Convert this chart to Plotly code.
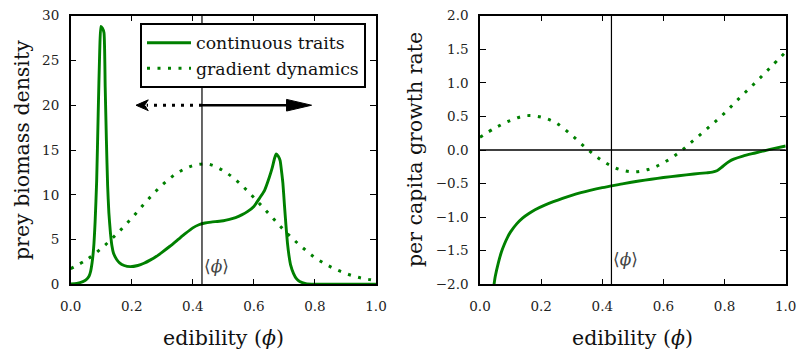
import plotly.graph_objects as go

# ---- data -------------------------------------------------------------
# prey biomass density vs. edibility, continuous-trait model
cont_phi = [0.00, 0.02, 0.04, 0.05, 0.06, 0.065, 0.07, 0.075, 0.08, 0.085, 0.09,
            0.095, 0.099, 0.104, 0.109, 0.113, 0.117, 0.121, 0.125, 0.13, 0.135,
            0.14, 0.15, 0.16, 0.175, 0.195, 0.22, 0.24, 0.26, 0.28, 0.30, 0.325,
            0.35, 0.375, 0.40, 0.42, 0.44, 0.46, 0.48, 0.50, 0.52, 0.54, 0.56,
            0.58, 0.60, 0.62, 0.635, 0.65, 0.66, 0.668, 0.673, 0.68, 0.686, 0.69,
            0.695, 0.70, 0.705, 0.71, 0.715, 0.72, 0.73, 0.74, 0.75, 0.77, 0.80,
            0.90, 1.00]
cont_biomass = [0.05, 0.1, 0.3, 0.5, 0.9, 1.4, 2.4, 4.0, 7.0, 11.5, 19.0,
                26.0, 28.8, 28.6, 28.1, 22.0, 16.0, 11.0, 8.0, 5.8, 4.3,
                3.5, 2.8, 2.4, 2.1, 1.97, 2.1, 2.35, 2.7, 3.1, 3.6, 4.25,
                4.95, 5.65, 6.3, 6.65, 6.85, 6.95, 7.02, 7.1, 7.25, 7.45, 7.75,
                8.15, 8.7, 9.7, 10.5, 11.9, 13.0, 14.1, 14.55, 14.3, 13.8, 12.8,
                11.3, 8.9, 6.6, 4.6, 3.2, 2.2, 1.2, 0.6, 0.3, 0.08, 0.02,
                0.0, 0.0]

# prey biomass density vs. edibility, gradient-dynamics model
grad_phi = [0.00, 0.05, 0.10, 0.15, 0.20, 0.25, 0.30, 0.35, 0.40, 0.45, 0.50,
            0.55, 0.60, 0.65, 0.70, 0.75, 0.80, 0.85, 0.90, 0.95, 1.00]
grad_biomass = [1.75, 2.7, 4.0, 5.6, 7.4, 9.35, 11.1, 12.45, 13.25, 13.42, 12.68,
                11.38, 9.68, 7.85, 6.0, 4.38, 2.99, 1.97, 1.22, 0.71, 0.42]

# per capita growth rate vs. edibility, continuous-trait model
cont_rate_phi = [0.046, 0.05, 0.06, 0.07, 0.08, 0.09, 0.10, 0.12, 0.14, 0.16, 0.18,
                 0.21, 0.24, 0.27, 0.30, 0.33, 0.36, 0.40, 0.43, 0.47, 0.52,
                 0.56, 0.60, 0.65, 0.70, 0.74, 0.76, 0.775, 0.79, 0.80, 0.815,
                 0.83, 0.86, 0.90, 0.93, 0.96, 1.00]
cont_rate = [-2.0, -1.88, -1.68, -1.52, -1.40, -1.30, -1.22, -1.10, -1.01, -0.945, -0.89,
             -0.825, -0.77, -0.72, -0.675, -0.635, -0.60, -0.56, -0.535, -0.50, -0.462,
             -0.435, -0.41, -0.383, -0.357, -0.34, -0.33, -0.31, -0.26, -0.22, -0.17,
             -0.135, -0.09, -0.045, -0.012, 0.02, 0.06]

# per capita growth rate vs. edibility, gradient-dynamics model
grad_rate_phi = [0.00, 0.05, 0.10, 0.15, 0.20, 0.25, 0.30, 0.35, 0.40, 0.45, 0.50,
                 0.55, 0.60, 0.65, 0.70, 0.75, 0.80, 0.85, 0.90, 0.95, 1.00]
grad_rate = [0.19, 0.33, 0.44, 0.51, 0.49, 0.40, 0.22, 0.017, -0.16, -0.28, -0.325,
             -0.29, -0.19, -0.04, 0.15, 0.345, 0.55, 0.78, 1.0, 1.23, 1.46]

mean_phi = 0.43          # community-mean edibility <phi>

x_ticks = [0.0, 0.2, 0.4, 0.6, 0.8, 1.0]
biomass_ticks = [0, 5, 10, 15, 20, 25, 30]
rate_ticks = [-2.0, -1.5, -1.0, -0.5, 0.0, 0.5, 1.0, 1.5, 2.0]

# ---- styling ----------------------------------------------------------
GREEN = "#008000"
SERIF = "DejaVu Serif"
DOT = "3px,7.5px"
W, H = 797, 349

fig = go.Figure()

fig.add_trace(go.Scatter(x=cont_phi, y=cont_biomass, mode="lines",
                         name="continuous traits",
                         line=dict(color=GREEN, width=2.9, shape="spline", smoothing=0.5),
                         xaxis="x", yaxis="y"))
fig.add_trace(go.Scatter(x=grad_phi, y=grad_biomass, mode="lines",
                         name="gradient dynamics",
                         line=dict(color=GREEN, width=3, dash=DOT, shape="spline"),
                         xaxis="x", yaxis="y"))
fig.add_trace(go.Scatter(x=cont_rate_phi, y=cont_rate, mode="lines",
                         showlegend=False,
                         line=dict(color=GREEN, width=2.9, shape="spline", smoothing=0.7),
                         xaxis="x2", yaxis="y2"))
fig.add_trace(go.Scatter(x=grad_rate_phi, y=grad_rate, mode="lines",
                         showlegend=False,
                         line=dict(color=GREEN, width=3, dash=DOT, shape="spline"),
                         xaxis="x2", yaxis="y2"))

axis_common = dict(showline=True, linecolor="black", linewidth=1.5, mirror="ticks",
                   ticks="inside", ticklen=6, tickwidth=1.2, tickcolor="black",
                   showgrid=False, zeroline=False, automargin=False,
                   tickfont=dict(family=SERIF, size=13.5, color="#222"))

top, bottom = 1 - 15.7 / H, 1 - 284.3 / H
left_dom = [70.7 / W, 376.0 / W]
right_dom = [480.0 / W, 785.7 / W]

fig.update_layout(
    width=W, height=H,
    margin=dict(l=0, r=0, t=0, b=0),
    paper_bgcolor="white", plot_bgcolor="white",
    xaxis=dict(axis_common, domain=left_dom, range=[0, 1], tickvals=x_ticks,
               tickformat=".1f", anchor="y", ticklabelstandoff=9),
    yaxis=dict(axis_common, domain=[bottom, top], range=[0, 30],
               tickvals=biomass_ticks, anchor="x", ticklabelstandoff=7),
    xaxis2=dict(axis_common, domain=right_dom, range=[0, 1], tickvals=x_ticks,
                tickformat=".1f", anchor="y2", ticklabelstandoff=9),
    yaxis2=dict(axis_common, domain=[bottom, top], range=[-2, 2],
                tickvals=rate_ticks, tickformat=".1f", anchor="x2", ticklabelstandoff=7),
    legend=dict(x=140 / W, y=1 - 23 / H, xanchor="left", yanchor="top",
                bordercolor="black", borderwidth=2, bgcolor="white",
                font=dict(family=SERIF, size=17.3, color="#111"),
                itemwidth=44, tracegroupgap=0),
)

# mean-edibility markers and zero line
shapes = [
    dict(type="line", xref="x", yref="y domain", x0=mean_phi, x1=mean_phi, y0=0, y1=1,
         line=dict(color="black", width=1.2)),
    dict(type="line", xref="x2", yref="y2 domain", x0=mean_phi, x1=mean_phi, y0=0, y1=1,
         line=dict(color="black", width=1.2)),
    dict(type="line", xref="x2 domain", yref="y2", x0=0, x1=1, y0=0, y1=0,
         line=dict(color="black", width=1.3)),
]

# direction-of-change arrows at biomass level 20
arrow_y = 20
solid_tip, solid_head_len, head_half = 0.789, 0.082, 0.65
dotted_tip = 0.214
shapes += [
    dict(type="line", xref="x", yref="y", x0=mean_phi, x1=solid_tip - solid_head_len + 0.005,
         y0=arrow_y, y1=arrow_y, line=dict(color="black", width=2.5)),
    dict(type="path", xref="x", yref="y",
         path=f"M {solid_tip - solid_head_len},{arrow_y - head_half} L {solid_tip},{arrow_y} "
              f"L {solid_tip - solid_head_len},{arrow_y + head_half} Z",
         fillcolor="black", line=dict(color="black", width=1)),
    dict(type="line", xref="x", yref="y", x0=mean_phi, x1=dotted_tip + 0.035,
         y0=arrow_y, y1=arrow_y, line=dict(color="black", width=3, dash="3px,6px")),
    dict(type="path", xref="x", yref="y",
         path=f"M {dotted_tip},{arrow_y} L {dotted_tip + 0.04},{arrow_y + 0.6} "
              f"L {dotted_tip + 0.028},{arrow_y} L {dotted_tip + 0.04},{arrow_y - 0.6} Z",
         fillcolor="black", line=dict(color="black", width=1)),
]
fig.update_layout(shapes=shapes)

label_font = dict(family=SERIF, size=20.5, color="#111")
annotations = [
    dict(text="⟨<i>ϕ</i>⟩", x=mean_phi, y=2.1, xref="x", yref="y", xanchor="left",
         yanchor="middle", showarrow=False, xshift=0,
         font=dict(family=SERIF, size=17, color="#444")),
    dict(text="⟨<i>ϕ</i>⟩", x=mean_phi, y=-1.62, xref="x2", yref="y2", xanchor="left",
         yanchor="middle", showarrow=False, xshift=0,
         font=dict(family=SERIF, size=17, color="#444")),
    dict(text="edibility (<i>ϕ</i>)", x=(left_dom[0] + left_dom[1]) / 2, y=1 - 338 / H,
         xref="paper", yref="paper", showarrow=False, xanchor="center", yanchor="middle",
         font=label_font),
    dict(text="edibility (<i>ϕ</i>)", x=(right_dom[0] + right_dom[1]) / 2, y=1 - 338 / H,
         xref="paper", yref="paper", showarrow=False, xanchor="center", yanchor="middle",
         font=label_font),
    dict(text="prey biomass density", x=22 / W, y=(top + bottom) / 2,
         xref="paper", yref="paper", showarrow=False, textangle=-90,
         xanchor="center", yanchor="middle", font=label_font),
    dict(text="per capita growth rate", x=415 / W, y=(top + bottom) / 2,
         xref="paper", yref="paper", showarrow=False, textangle=-90,
         xanchor="center", yanchor="middle", font=label_font),
]
fig.update_layout(annotations=annotations)

fig.write_html("out.html")
